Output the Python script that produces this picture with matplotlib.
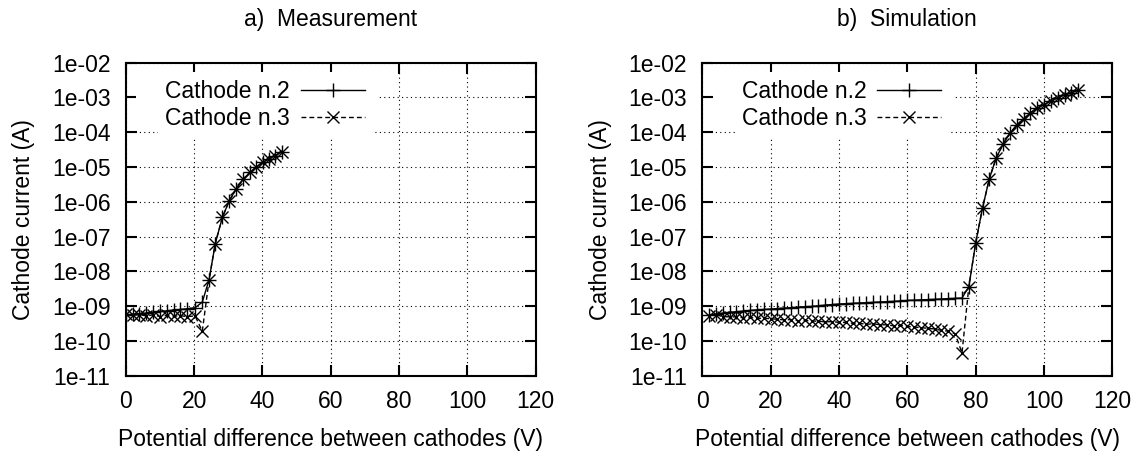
import matplotlib
matplotlib.use("Agg")
import matplotlib.pyplot as plt
from matplotlib.patches import Rectangle
from matplotlib.ticker import NullLocator

plt.rcParams['font.family'] = ['Liberation Sans', 'DejaVu Sans']

# a) measurement
meas_v = [0, 2, 4, 6, 8, 10, 12, 14, 16, 18, 20.3, 22.4, 24.4, 26.2, 28.3,
          30.3, 32.4, 34.3, 36.4, 38.2, 40.1, 41.9, 43.7, 45.6]
meas_c2 = [5.6e-10, 5.8e-10, 6.1e-10, 6.3e-10, 6.6e-10, 7.0e-10, 7.3e-10,
           7.7e-10, 8.0e-10, 8.4e-10, 9.0e-10, 1.3e-9, 5.8e-9, 6.3e-8, 3.6e-7,
           1.07e-6, 2.4e-6, 4.4e-6, 7.1e-6, 9.9e-6, 1.36e-5, 1.7e-5, 2.1e-5, 2.7e-5]
meas_c3 = [5.9e-10, 5.4e-10, 5.7e-10, 5.2e-10, 5.6e-10, 5.0e-10, 5.4e-10,
           5.1e-10, 5.3e-10, 5.0e-10, 5.2e-10, 1.9e-10, 5.8e-9, 6.3e-8, 3.6e-7,
           1.07e-6, 2.4e-6, 4.4e-6, 7.1e-6, 9.9e-6, 1.36e-5, 1.7e-5, 2.1e-5, 2.7e-5]

# b) simulation, 2 V steps from 2 to 110
sim_v = [2, 4, 6, 8, 10, 12, 14, 16, 18, 20, 22, 24, 26, 28, 30, 32, 34, 36,
         38, 40, 42, 44, 46, 48, 50, 52, 54, 56, 58, 60, 62, 64, 66, 68, 70,
         72, 74, 76, 78, 80, 82, 84, 86, 88, 90, 92, 94, 96, 98, 100, 102,
         104, 106, 108, 110]
sim_c2 = [5.5e-10, 5.9e-10, 6.3e-10, 6.6e-10, 6.9e-10, 7.2e-10, 7.5e-10,
          7.8e-10, 8.0e-10, 8.2e-10, 8.5e-10, 8.8e-10, 9.0e-10, 9.3e-10,
          9.6e-10, 9.8e-10, 1.02e-9, 1.07e-9, 1.11e-9, 1.15e-9, 1.17e-9,
          1.20e-9, 1.23e-9, 1.25e-9, 1.28e-9, 1.31e-9, 1.34e-9, 1.37e-9,
          1.41e-9, 1.45e-9, 1.48e-9, 1.51e-9, 1.54e-9, 1.57e-9, 1.60e-9,
          1.64e-9, 1.67e-9, 1.70e-9, 3.6e-9, 6.5e-8, 6.6e-7, 4.6e-6, 1.8e-5,
          4.5e-5, 9.2e-5, 1.6e-4, 2.4e-4, 3.6e-4, 4.8e-4, 6.2e-4, 7.8e-4,
          9.6e-4, 1.17e-3, 1.36e-3, 1.6e-3]
sim_c3 = [5.3e-10, 5.6e-10, 5.0e-10, 4.9e-10, 4.9e-10, 4.6e-10, 4.7e-10,
          4.4e-10, 4.5e-10, 4.3e-10, 4.2e-10, 4.0e-10, 4.1e-10, 3.8e-10,
          3.9e-10, 3.7e-10, 3.7e-10, 3.5e-10, 3.6e-10, 3.4e-10, 3.4e-10,
          3.2e-10, 3.2e-10, 3.0e-10, 3.1e-10, 2.9e-10, 2.9e-10, 2.7e-10,
          2.8e-10, 2.6e-10, 2.5e-10, 2.4e-10, 2.3e-10, 2.2e-10, 2.0e-10,
          1.9e-10, 1.6e-10, 4.5e-11, 3.6e-9, 6.5e-8, 6.6e-7, 4.6e-6, 1.8e-5,
          4.5e-5, 9.2e-5, 1.6e-4, 2.4e-4, 3.6e-4, 4.8e-4, 6.2e-4, 7.8e-4,
          9.6e-4, 1.17e-3, 1.36e-3, 1.6e-3]

xticks = [0, 20, 40, 60, 80, 100, 120]
yticks = [1e-11, 1e-10, 1e-9, 1e-8, 1e-7, 1e-6, 1e-5, 1e-4, 1e-3, 1e-2]
ytick_labels = ['1e-11', '1e-10', '1e-09', '1e-08', '1e-07', '1e-06',
                '1e-05', '1e-04', '1e-03', '1e-02']
titles = ['a)  Measurement', 'b)  Simulation']
labels = ['Cathode n.2', 'Cathode n.3']

FS = 16.5

fig = plt.figure(figsize=(11.39, 4.57), dpi=100)
ax_a = fig.add_axes([0.1104, 0.178, 0.360, 0.685])
ax_b = fig.add_axes([0.6166, 0.178, 0.360, 0.685])

panels = [(ax_a, meas_v, meas_c2, meas_c3, titles[0]),
          (ax_b, sim_v, sim_c2, sim_c3, titles[1])]

for ax, v, c2, c3, title in panels:
    ax.plot(v, c2, color='black', lw=1.0, marker='+', ms=10, mew=1.0,
            label=labels[0])
    ax.plot(v, c3, color='black', lw=1.0, ls=(0, (3.5, 2.2)), marker='x',
            ms=8, mew=1.0, label=labels[1])
    ax.set_yscale('log')
    ax.set_xlim(0, 120)
    ax.set_ylim(1e-11, 1e-2)
    ax.set_xticks(xticks)
    ax.set_yticks(yticks)
    ax.set_yticklabels(ytick_labels)
    ax.yaxis.set_minor_locator(NullLocator())
    ax.grid(True, color='black', lw=0.8, ls=(0, (1, 3)))
    ax.tick_params(direction='in', length=8, width=1.5, top=True, right=True,
                   labelsize=FS)
    ax.tick_params(axis='y', pad=11)
    ax.tick_params(axis='x', pad=10)
    for s in ax.spines.values():
        s.set_linewidth(1.5)
    ax.set_xlabel('Potential difference between cathodes (V)', fontsize=FS,
                  labelpad=11)
    ax.set_ylabel('Cathode current (A)', fontsize=FS, labelpad=12)
    ax.set_title(title, fontsize=FS, pad=26)
    # white key area hides the grid behind the legend
    ax.add_patch(Rectangle((0.025, 0.80), 0.59, 0.17, transform=ax.transAxes,
                           facecolor='white', edgecolor='none', zorder=2.2))
    leg = ax.legend(loc='upper left', bbox_to_anchor=(0.079, 0.965),
                    markerfirst=False, frameon=True, framealpha=1,
                    edgecolor='none', fancybox=False, borderpad=0.3,
                    handlelength=2.8, handletextpad=0.47, labelspacing=0.15,
                    borderaxespad=0, fontsize=FS)
    leg.get_frame().set_linewidth(0)

fig.savefig('out.png', dpi=100)
